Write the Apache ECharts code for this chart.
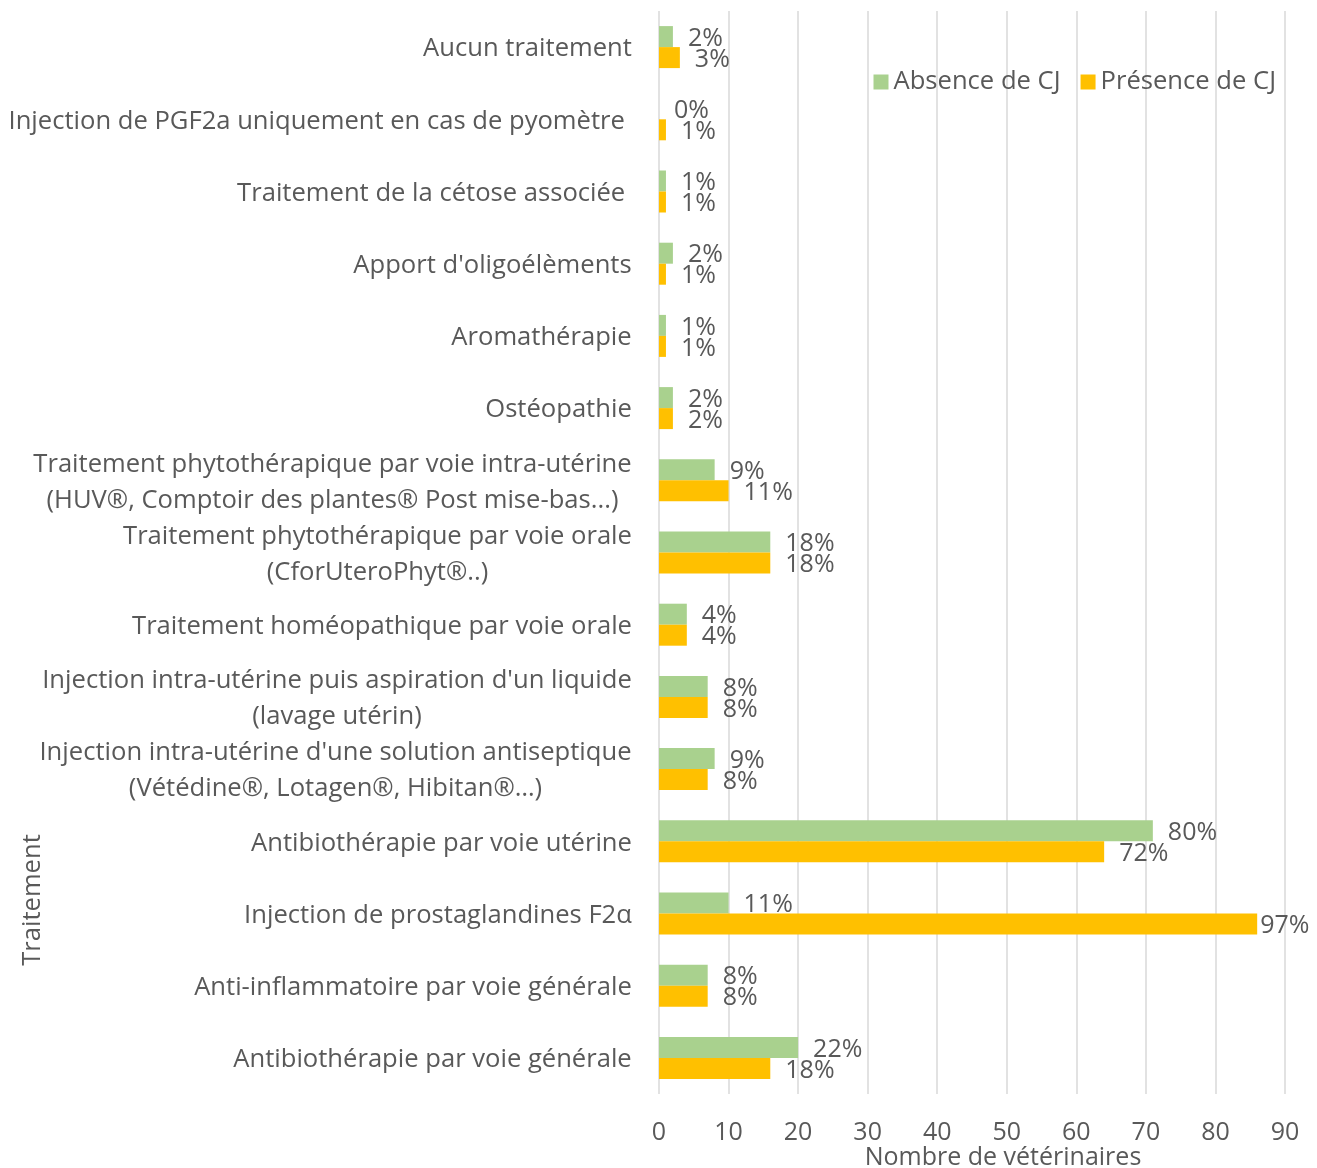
<!DOCTYPE html>
<html>
<head>
<meta charset="utf-8">
<script src="https://cdn.jsdelivr.net/npm/echarts@6/dist/echarts.min.js"></script>
<style>
  html, body { margin: 0; padding: 0; background: #fff; }
  #chart { width: 1317px; height: 1168px; }
</style>
</head>
<body>
<div id="chart"></div>
<script>
// categories, top to bottom
var treatments = [
  "Aucun traitement",
  "Injection de PGF2a uniquement en cas de pyomètre\u00a0",
  "Traitement de la cétose associée\u00a0",
  "Apport d'oligoélèments",
  "Aromathérapie",
  "Ostéopathie",
  "Traitement phytothérapique par voie intra-utérine\n(HUV®, Comptoir des plantes® Post mise-bas...)",
  "Traitement phytothérapique par voie orale\n(CforUteroPhyt®..)",
  "Traitement homéopathique par voie orale",
  "Injection intra-utérine puis aspiration d'un liquide\n(lavage utérin)",
  "Injection intra-utérine d'une solution antiseptique\n(Vétédine®, Lotagen®, Hibitan®…)",
  "Antibiothérapie par voie utérine",
  "Injection de prostaglandines F2α",
  "Anti-inflammatoire par voie générale",
  "Antibiothérapie par voie générale"
];

// number of vets
var absenceCJ  = [2, 0, 1, 2, 1, 2, 8, 16, 4, 7, 8, 71, 10, 7, 20];
var presenceCJ = [3, 1, 1, 1, 1, 2, 10, 16, 4, 7, 7, 64, 86, 7, 16];

// percentage labels
var absencePct  = ["2%", "0%", "1%", "2%", "1%", "2%", "9%", "18%", "4%", "8%", "9%", "80%", "11%", "8%", "22%"];
var presencePct = ["3%", "1%", "1%", "1%", "1%", "2%", "11%", "18%", "4%", "8%", "8%", "72%", "97%", "8%", "18%"];

var xTicks = [0, 10, 20, 30, 40, 50, 60, 70, 80, 90];

var textColor = "#595959";
var fontFamily = "Open Sans";
var catSize = 25.6;
var valSize = 25;

// rich styles so that multi-line labels are centred inside a right aligned block
var ctx = document.createElement("canvas").getContext("2d");
ctx.font = catSize + "px " + fontFamily;
var rich = {};
treatments.forEach(function (t, i) {
  var w = 0;
  t.split("\n").forEach(function (l) { w = Math.max(w, ctx.measureText(l).width); });
  rich["r" + i] = {
    width: Math.ceil(w), align: "center",
    fontSize: catSize, fontFamily: fontFamily, color: textColor, lineHeight: 36
  };
});

function labelData(values, pcts) {
  return values.map(function (v, i) {
    var item = { value: v, pct: pcts[i] };
    if (v > 80) item.label = { distance: 3 };
    return item;
  });
}

var chart = echarts.init(document.getElementById("chart"));
chart.setOption({
  animation: false,
  textStyle: { fontFamily: fontFamily },
  grid: { left: 659, right: 32, top: 11, bottom: 74, outerBoundsMode: "none", containLabel: false },
  legend: {
    data: ["Absence de CJ", "Présence de CJ"],
    right: 36, top: 64,
    itemWidth: 15, itemHeight: 15, itemGap: 20,
    icon: "rect",
    textStyle: { fontSize: catSize, color: textColor, fontFamily: fontFamily }
  },
  xAxis: {
    type: "value",
    min: 0, max: 90, interval: 10,
    name: "Nombre de vétérinaires",
    nameLocation: "middle",
    nameGap: 51,
    nameMoveOverlap: false,
    nameTextStyle: { fontSize: valSize, color: textColor, padding: [0, 0, 0, 62] },
    axisLine: { show: false },
    axisTick: { show: false },
    axisLabel: {
      margin: 26, fontSize: valSize, color: textColor,
      formatter: function (v) { return xTicks.indexOf(v) >= 0 ? String(v) : ""; }
    },
    splitLine: { lineStyle: { color: "#D9D9D9", width: 1.5 } }
  },
  yAxis: {
    type: "category",
    inverse: true,
    data: treatments,
    axisLine: { show: false },
    axisTick: { show: false },
    axisLabel: {
      margin: 27,
      padding: [4, 0, 0, 0],
      fontSize: catSize, color: textColor,
      formatter: function (v, i) {
        return v.split("\n").map(function (l) { return "{r" + i + "|" + l + "}"; }).join("\n");
      },
      rich: rich
    }
  },
  graphic: [{
    type: "text",
    x: 33, y: 900,
    rotation: Math.PI / 2,
    style: {
      text: "Traitement",
      font: catSize + "px " + fontFamily,
      fill: textColor,
      textAlign: "center",
      textVerticalAlign: "middle"
    }
  }],
  series: [
    {
      name: "Absence de CJ",
      type: "bar",
      data: labelData(absenceCJ, absencePct),
      barWidth: 21,
      barGap: "0%",
      itemStyle: { color: "#A9D18E" },
      label: {
        show: true, position: "right", distance: 15, offset: [0, 2],
        fontSize: valSize, color: textColor,
        formatter: function (p) { return p.data.pct; }
      }
    },
    {
      name: "Présence de CJ",
      type: "bar",
      data: labelData(presenceCJ, presencePct),
      barWidth: 21,
      barGap: "0%",
      itemStyle: { color: "#FFC000" },
      label: {
        show: true, position: "right", distance: 15, offset: [0, 2],
        fontSize: valSize, color: textColor,
        formatter: function (p) { return p.data.pct; }
      }
    }
  ]
});
</script>
</body>
</html>
